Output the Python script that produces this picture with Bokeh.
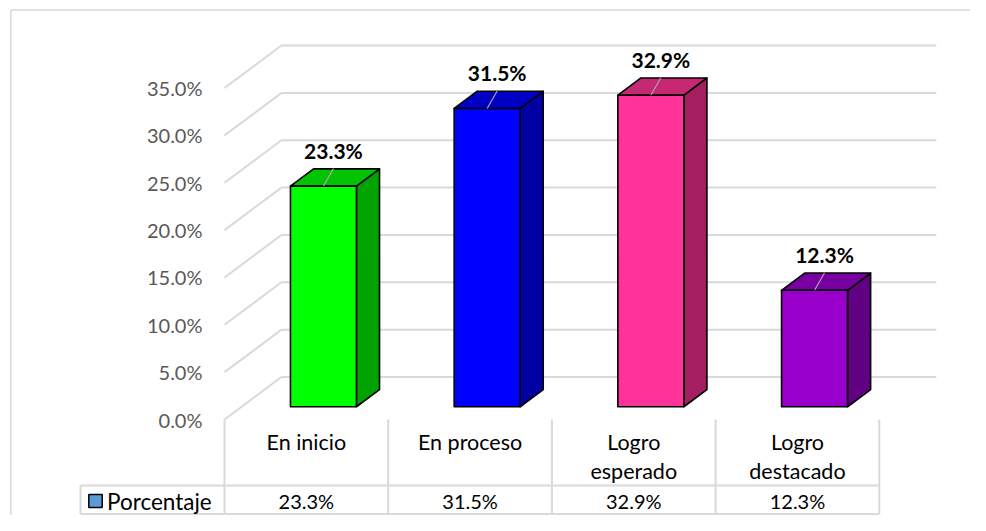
from bokeh.plotting import figure
from bokeh.models import Range1d
from bokeh.core.properties import value
from bokeh.embed import file_html
from bokeh.resources import INLINE

# ---------------- data ----------------
categories = ["En inicio", "En proceso", "Logro\nesperado", "Logro\ndestacado"]
values = [23.3, 31.5, 32.9, 12.3]
value_labels = ["23.3%", "31.5%", "32.9%", "12.3%"]
series_name = "Porcentaje"
y_ticks = [0, 5, 10, 15, 20, 25, 30, 35]
y_tick_labels = ["0.0%", "5.0%", "10.0%", "15.0%", "20.0%", "25.0%", "30.0%", "35.0%"]

# ---------------- styles ----------------
front_colors = ["#00FF00", "#0000FF", "#FF3399", "#9900CC"]
side_colors = ["#00A300", "#0000A3", "#A31F62", "#620083"]
top_colors = ["#00C400", "#0000C4", "#C62874", "#7800A3"]
legend_color = "#5B9BD5"
grid_color = "#D9D9D9"
FONT = "Lato"

# ---------------- layout ----------------
W, H = 970, 515
X0_PX = 224.0      # x of the category/value axis origin
COL_PX = 163.7     # width of one category column
Y0_PX = 419.0      # y of 0 on the front plane
UNIT_PX = 9.47     # pixels per 1 %
DX = 57.0 / COL_PX      # depth offset (x, data units) for full depth
DY = 42.5 / UNIT_PX     # depth offset (y, data units) for full depth
D0, D1 = 0.30, 0.705    # bar depth span
HALF_W = 0.2015         # half bar width (category units)


def px(xp):
    return (xp - X0_PX) / COL_PX


def py(yp):
    return (Y0_PX - yp) / UNIT_PX


n = len(categories)
x_range = Range1d(px(0), px(W))
y_range = Range1d(py(H), py(0))

p = figure(width=W, height=H, x_range=x_range, y_range=y_range,
           output_backend="svg", toolbar_location=None, min_border=0,
           x_axis_type=None, y_axis_type=None)
p.grid.visible = False
p.outline_line_color = None
p.background_fill_color = "white"
p.border_fill_color = "white"

# outer chart border (top and left visible)
p.multi_line(xs=[[px(10.3), px(1000)], [px(10.3), px(10.3)]],
             ys=[[py(9.5), py(9.5)], [py(9.5), py(540)]],
             line_color=grid_color, line_width=1.5)

# back wall and side wall gridlines
gx, gy = [], []
for t in y_ticks:
    gx.append([0 + DX, n + DX])
    gy.append([t + DY, t + DY])
    gx.append([0, DX])
    gy.append([t, t + DY])
p.multi_line(xs=gx, ys=gy, line_color=grid_color, line_width=2)

# y tick labels (front plane)
p.text(x=[px(202)] * len(y_ticks), y=y_ticks, text=y_tick_labels,
       text_font=value(FONT), text_font_size="20px", text_color="#595959",
       text_align="right", text_baseline="middle")

# 3D bars
fx, fy, sx, sy, tx, ty = [], [], [], [], [], []
for i, v in enumerate(values):
    xl = i + 0.5 - HALF_W
    xr = i + 0.5 + HALF_W
    fx.append([xl + DX * D0, xr + DX * D0, xr + DX * D0, xl + DX * D0])
    fy.append([DY * D0, DY * D0, v + DY * D0, v + DY * D0])
    sx.append([xr + DX * D0, xr + DX * D1, xr + DX * D1, xr + DX * D0])
    sy.append([DY * D0, DY * D1, v + DY * D1, v + DY * D0])
    tx.append([xl + DX * D0, xr + DX * D0, xr + DX * D1, xl + DX * D1])
    ty.append([v + DY * D0, v + DY * D0, v + DY * D1, v + DY * D1])

bar_style = dict(line_color="black", line_width=1.6, line_join="round")
p.patches(xs=sx, ys=sy, fill_color=side_colors, **bar_style)
p.patches(xs=tx, ys=ty, fill_color=top_colors, **bar_style)
p.patches(xs=fx, ys=fy, fill_color=front_colors, **bar_style)

# data labels with leader lines
lab_dx = 10.0 / COL_PX
lab_dy = 35.5 / UNIT_PX
lead_dy = 18.0 / UNIT_PX
lx, ly, lead_x, lead_y = [], [], [], []
for i, v in enumerate(values):
    cx = i + 0.5 + DX * D0
    cy = v + DY * D0
    lx.append(cx + lab_dx)
    ly.append(cy + lab_dy)
    lead_x.append([cx, cx + lab_dx])
    lead_y.append([cy, cy + lab_dy - lead_dy])
p.multi_line(xs=lead_x, ys=lead_y, line_color="#A6A6A6", line_width=1.2)
p.text(x=lx, y=ly, text=value_labels, text_font=value(FONT),
       text_font_size="21px", text_font_style="bold", text_color="black",
       text_align="center", text_baseline="middle")

# data table
tbl_top, tbl_mid, tbl_bot = py(419), py(485), py(513.5)
tlx, tly = [], []
for k in range(n + 1):
    tlx.append([k, k])
    tly.append([tbl_top, tbl_bot])
tlx.append([px(80), n]); tly.append([tbl_mid, tbl_mid])
tlx.append([px(80), n]); tly.append([tbl_bot, tbl_bot])
tlx.append([px(80), px(80)]); tly.append([tbl_mid, tbl_bot])
p.multi_line(xs=tlx, ys=tly, line_color=grid_color, line_width=2)

cat_x, cat_y, cat_t = [], [], []
for i, c in enumerate(categories):
    for j, line in enumerate(c.split("\n")):
        cat_x.append(i + 0.5)
        cat_y.append(py(441.7 + 28.8 * j))
        cat_t.append(line)
p.text(x=cat_x, y=cat_y, text=cat_t, text_font=value(FONT),
       text_font_size="21.5px", text_color="black",
       text_align="center", text_baseline="middle")

row_y = py(500.5)
p.text(x=[i + 0.5 for i in range(n)], y=[row_y] * n, text=value_labels,
       text_font=value(FONT), text_font_size="20px", text_color="black",
       text_align="center", text_baseline="middle")

# legend key + series name
p.quad(left=[px(88.3)], right=[px(101.7)], bottom=[py(507)], top=[py(494)],
       fill_color=legend_color, line_color="black", line_width=1.5)
p.text(x=[px(106.5)], y=[row_y], text=[series_name], text_font=value(FONT),
       text_font_size="22.5px", text_color="black",
       text_align="left", text_baseline="middle")

open("out.html", "w").write(file_html(p, INLINE))
